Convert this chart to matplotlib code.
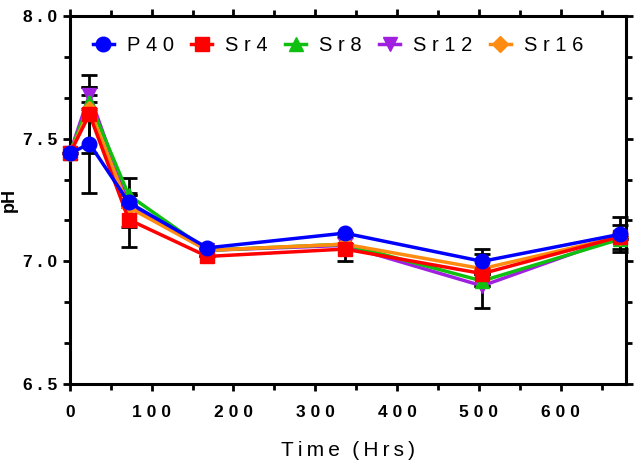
import matplotlib
matplotlib.use("Agg")
import matplotlib.pyplot as plt
from matplotlib.ticker import MultipleLocator, FuncFormatter

plt.rcParams['font.family'] = ['Liberation Sans', 'DejaVu Sans']

# data (pH vs time in hours)
time = [0, 24, 72, 168, 336, 504, 672]
labels = ['P40', 'Sr4', 'Sr8', 'Sr12', 'Sr16']
colors = ['#0000FF', '#FF0000', '#10C010', '#A020E0', '#FF8C10']
markers = ['o', 's', '^', 'v', 'D']

p40 = [7.44, 7.48, 7.24, 7.055, 7.115, 7.00, 7.11]
sr4 = [7.44, 7.60, 7.17, 7.02, 7.05, 6.95, 7.10]
sr8 = [7.44, 7.65, 7.27, 7.045, 7.07, 6.92, 7.09]
sr12 = [7.44, 7.68, 7.23, 7.045, 7.065, 6.90, 7.10]
sr16 = [7.44, 7.62, 7.22, 7.045, 7.07, 6.97, 7.10]

p40_err = [0.0, 0.20, 0.10, 0.0, 0.0, 0.05, 0.07]
sr4_err = [0.0, 0.16, 0.11, 0.0, 0.05, 0.0, 0.05]
sr8_err = [0.0, 0.06, 0.0, 0.0, 0.0, 0.11, 0.0]
sr12_err = [0.0, 0.03, 0.0, 0.0, 0.0, 0.0, 0.0]
sr16_err = [0.0, 0.0, 0.0, 0.0, 0.0, 0.0, 0.0]

series = [p40, sr4, sr8, sr12, sr16]
errs = [p40_err, sr4_err, sr8_err, sr12_err, sr16_err]

fig = plt.figure(figsize=(6.35, 4.62), dpi=100)
ax = fig.add_axes([0.110, 0.169, 0.876, 0.796])

TS = '\u2009'  # thin space, to mimic the wide letter spacing
HS = '\u200a'  # hair space

# draw back to front so blue sits on top
order = [3, 2, 4, 1, 0]
for i in order:
    eb = ax.errorbar(time, series[i], yerr=errs[i], fmt='none', ecolor='black',
                     elinewidth=2, capsize=6, capthick=2, zorder=2)
    for art in eb.lines[1] + eb.lines[2]:
        art.set_clip_on(False)
for k, i in enumerate(order):
    ms = 10.5
    if markers[i] == 'D':
        ms = 8
    ax.plot(time, series[i], color=colors[i], marker=markers[i], markersize=ms,
            linewidth=2.5, label=labels[i], zorder=3 + k, clip_on=False)

ax.set_xlim(0, 680)
ax.set_ylim(6.5, 8.0)
ax.xaxis.set_major_locator(MultipleLocator(100))
ax.xaxis.set_minor_locator(MultipleLocator(50))
ax.yaxis.set_major_locator(MultipleLocator(0.5))
ax.yaxis.set_minor_locator(MultipleLocator(0.5 / 3))

def spaced(fmt):
    return FuncFormatter(lambda v, p: (TS + HS).join(fmt.format(v)))

ax.xaxis.set_major_formatter(spaced('{:.0f}'))
ax.yaxis.set_major_formatter(spaced('{:.1f}'))

for s in ax.spines.values():
    s.set_linewidth(2.2)
ax.tick_params(which='both', direction='out', width=2, top=True, right=True)
ax.tick_params(which='major', length=5, labelsize=12.5)
ax.tick_params(axis='x', which='major', pad=10)
ax.tick_params(axis='y', which='major', pad=4)
ax.tick_params(which='minor', length=4)
for t in ax.get_xticklabels() + ax.get_yticklabels():
    t.set_fontweight('bold')

ax.set_xlabel(TS.join('Time') + TS * 3 + TS.join('(Hrs)'), fontsize=15, labelpad=15)
ax.set_ylabel('pH', fontsize=13, fontweight='bold')
ax.yaxis.set_label_coords(-0.094, 0.5)

handles, labs = ax.get_legend_handles_labels()
hmap = dict(zip(labs, handles))
leg = ax.legend([hmap[l] for l in labels], [(TS + HS).join(l) for l in labels],
                loc='center', ncol=5, frameon=False, fontsize=14.5,
                handlelength=1.05, columnspacing=0.85, handletextpad=0.65,
                bbox_to_anchor=(0.482, 0.92), borderpad=0, borderaxespad=0)

plt.savefig('out.png', dpi=100)
